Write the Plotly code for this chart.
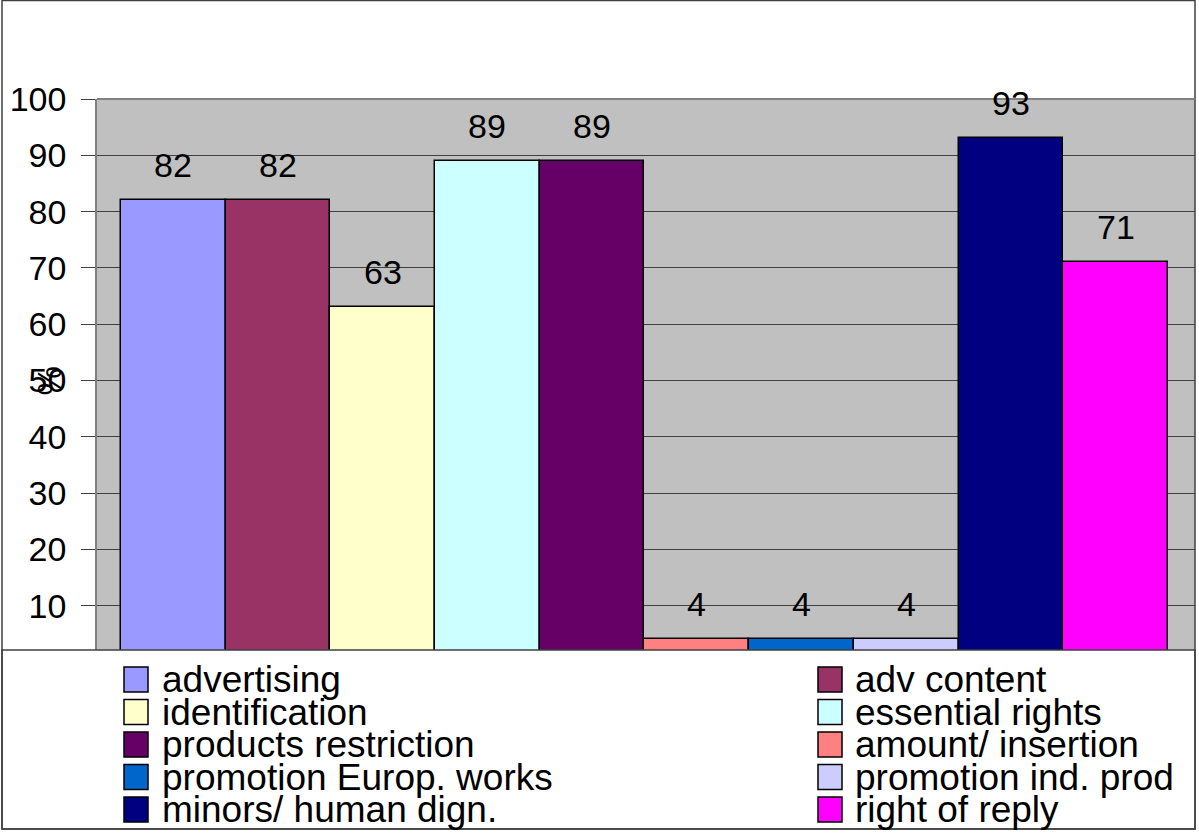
import plotly.graph_objects as go

# ---- data ----
series = ["advertising", "adv content", "identification", "essential rights",
          "products restriction", "amount/ insertion", "promotion Europ. works",
          "promotion ind. prod", "minors/ human dign.", "right of reply"]
values = [82, 82, 63, 89, 89, 4, 4, 4, 93, 71]
colors = ["#9999FF", "#993366", "#FFFFCC", "#CCFFFF", "#660066",
          "#FF8080", "#0066CC", "#CCCCFF", "#000080", "#FF00FF"]
y_ticks = [10, 20, 30, 40, 50, 60, 70, 80, 90, 100]
y_title = "%"

FONT = "Liberation Sans, Arial, sans-serif"
W, H = 1199, 833
L, R, T, B = 97, 1195, 99, 650


def px(x):
    return (x - L) / (R - L)


def py(y):
    return (B - y) / (B - T)


fig = go.Figure()
for i, (name, v, c) in enumerate(zip(series, values, colors)):
    fig.add_trace(go.Bar(x=[i], y=[v], name=name, width=1,
                         marker=dict(color=c, line=dict(color="black", width=1.5)),
                         showlegend=False))

annotations = []
# data labels
for i, v in enumerate(values):
    annotations.append(dict(x=i, y=v, xref="x", yref="y", text=str(v), showarrow=False,
                            yanchor="middle", yshift=35,
                            font=dict(family=FONT, size=34, color="black")))
# y axis title
annotations.append(dict(x=px(28), y=py(381), xref="paper", yref="paper", text=y_title,
                        showarrow=False, textangle=-90,
                        font=dict(family=FONT, size=33, color="black")))

shapes = []
# legend box
shapes.append(dict(type="rect", xref="paper", yref="paper", x0=px(2), x1=px(1195),
                   y0=py(829), y1=py(650), fillcolor="white",
                   line=dict(color="#404040", width=1.5), layer="above"))
# outer frame
shapes.append(dict(type="rect", xref="paper", yref="paper", x0=px(2), x1=px(1195),
                   y0=py(829), y1=py(0.5), line=dict(color="#404040", width=1.5)))
# plot area top border
shapes.append(dict(type="line", xref="paper", yref="paper", x0=0, x1=1, y0=1, y1=1,
                   line=dict(color="#808080", width=2)))

# manual legend
for i, (name, c) in enumerate(zip(series, colors)):
    col, row = i % 2, i // 2
    sx = 124 if col == 0 else 818
    tx = 160 if col == 0 else 853
    cy = 679.5 + 32.5 * row
    shapes.append(dict(type="rect", xref="paper", yref="paper", x0=px(sx), x1=px(sx + 24),
                       y0=py(cy + 12.5), y1=py(cy - 12.5), fillcolor=c,
                       line=dict(color="black", width=1.5), layer="above"))
    annotations.append(dict(x=px(tx), y=py(cy), xref="paper", yref="paper", text=name,
                            showarrow=False, xanchor="left", yanchor="middle",
                            font=dict(family=FONT, size=37, color="black")))

fig.update_layout(
    width=W, height=H,
    margin=dict(l=L, r=W - R, t=T, b=H - B, pad=0),
    paper_bgcolor="white", plot_bgcolor="#C0C0C0",
    barmode="overlay", bargap=0,
    showlegend=False,
    xaxis=dict(range=[-0.729, 9.758], showticklabels=False, showgrid=False,
               zeroline=False, showline=False, fixedrange=True),
    yaxis=dict(range=[2.13, 100], tickvals=y_ticks, ticktext=[str(t) for t in y_ticks],
               showgrid=True, gridcolor="#404040", gridwidth=1,
               ticks="outside", ticklen=14, tickcolor="#404040", tickwidth=1,
               showline=True, linecolor="#808080", linewidth=1.5,
               zeroline=False, ticklabelstandoff=8,
               tickfont=dict(family=FONT, size=34, color="black")),
    annotations=annotations, shapes=shapes,
)

fig.write_html("out.html", config={"displayModeBar": False},
               post_script="document.body.style.margin='0';document.body.style.overflow='hidden';")
